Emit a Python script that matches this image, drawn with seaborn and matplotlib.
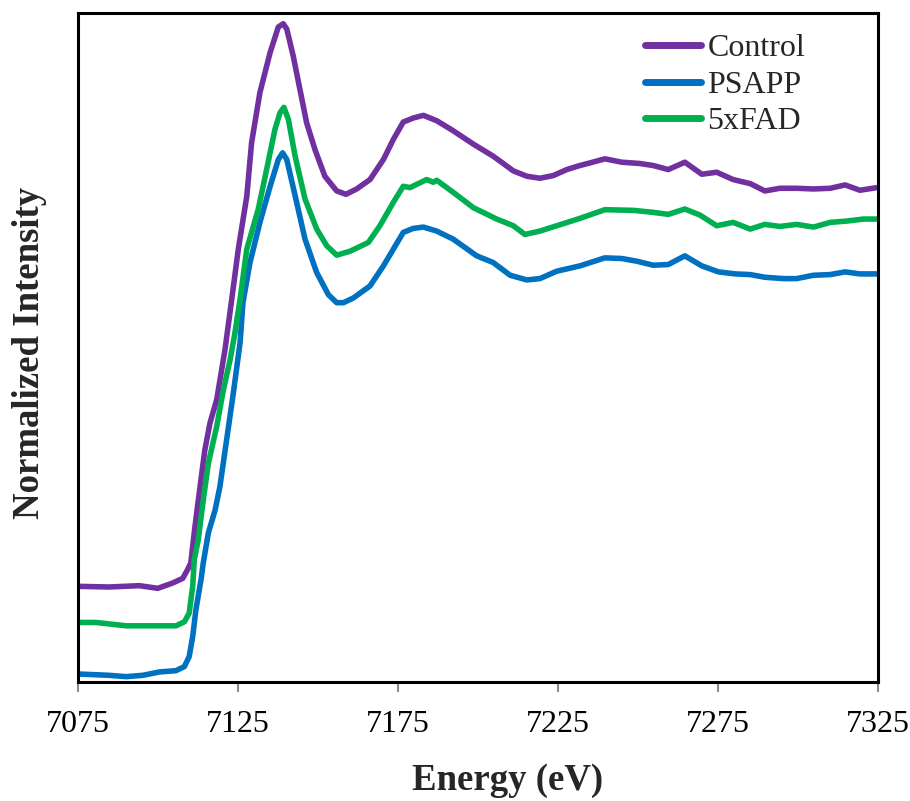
import numpy as np
import pandas as pd
import matplotlib
matplotlib.use("Agg")
import matplotlib.pyplot as plt
import seaborn as sns

# ---------------- data ----------------
series_names = ["Control", "PSAPP", "5xFAD"]
series_colors = ["#7030A0", "#0070C0", "#00B050"]

energy_control = [7075.0, 7084.9, 7094.3, 7100.1, 7104.75, 7107.9, 7109.4, 7110.4, 7111.7, 7113.3,
                  7114.8, 7116.4, 7118.5, 7121.1, 7123.2, 7125.25, 7127.9, 7129.4, 7132.0, 7135.2,
                  7137.75, 7139.3, 7140.4, 7142.4, 7144.5, 7146.6, 7149.2, 7152.3, 7156.0, 7158.9,
                  7162.25, 7166.4, 7170.6, 7173.7, 7176.8, 7179.9, 7183.1, 7187.25, 7192.4, 7198.7,
                  7204.9, 7211.2, 7215.4, 7219.5, 7223.7, 7227.9, 7232.0, 7235.2, 7239.8, 7245.1,
                  7250.8, 7254.9, 7259.6, 7264.8, 7270.1, 7274.75, 7279.9, 7285.2, 7289.8, 7294.5,
                  7299.75, 7305.0, 7310.2, 7314.9, 7319.5, 7324.8]
intensity_control = [0.143, 0.142, 0.144, 0.140, 0.148, 0.155, 0.168, 0.178, 0.232, 0.292,
                     0.347, 0.387, 0.422, 0.497, 0.572, 0.647, 0.726, 0.806, 0.881, 0.941,
                     0.979, 0.984, 0.976, 0.936, 0.886, 0.836, 0.796, 0.756, 0.734, 0.729,
                     0.737, 0.751, 0.781, 0.811, 0.837, 0.843, 0.847, 0.839, 0.824, 0.804,
                     0.786, 0.764, 0.756, 0.753, 0.757, 0.766, 0.772, 0.776, 0.782, 0.777,
                     0.775, 0.772, 0.766, 0.777, 0.759, 0.762, 0.751, 0.745, 0.734, 0.738,
                     0.738, 0.737, 0.738, 0.743, 0.735, 0.739]

energy_psapp = [7075.0, 7084.9, 7090.2, 7095.4, 7100.6, 7105.8, 7108.4, 7109.9, 7111.0, 7112.0,
                7113.6, 7114.3, 7115.9, 7118.0, 7119.5, 7121.6, 7123.7, 7125.8, 7126.7, 7128.9,
                7132.0, 7135.2, 7137.75, 7139.1, 7140.4, 7143.0, 7146.1, 7149.75, 7153.4, 7156.0,
                7158.1, 7161.2, 7166.4, 7170.6, 7173.7, 7176.8, 7179.9, 7183.1, 7187.25, 7192.4,
                7199.75, 7204.9, 7210.2, 7215.4, 7219.5, 7224.75, 7232.0, 7239.8, 7245.1, 7249.75,
                7254.9, 7259.6, 7264.8, 7270.1, 7275.3, 7280.6, 7285.2, 7289.8, 7295.6, 7299.75,
                7305.0, 7310.2, 7314.9, 7319.5, 7324.8]
intensity_psapp = [0.012, 0.010, 0.008, 0.010, 0.015, 0.017, 0.023, 0.038, 0.068, 0.108,
                   0.153, 0.178, 0.223, 0.257, 0.292, 0.362, 0.432, 0.507, 0.567, 0.627,
                   0.687, 0.741, 0.781, 0.791, 0.781, 0.727, 0.662, 0.612, 0.579, 0.567,
                   0.567, 0.574, 0.592, 0.622, 0.647, 0.672, 0.678, 0.680, 0.674, 0.662,
                   0.637, 0.627, 0.608, 0.601, 0.603, 0.614, 0.622, 0.634, 0.633, 0.629,
                   0.623, 0.624, 0.637, 0.622, 0.613, 0.610, 0.609, 0.605, 0.603, 0.603,
                   0.608, 0.609, 0.613, 0.610, 0.610]

energy_5xfad = [7075.0, 7080.8, 7090.2, 7099.5, 7105.8, 7108.4, 7109.9, 7111.0, 7111.5, 7112.75,
                7114.3, 7115.9, 7118.5, 7120.6, 7122.7, 7124.2, 7125.8, 7127.9, 7131.5, 7134.1,
                7136.7, 7138.3, 7139.5, 7140.9, 7143.0, 7146.1, 7149.75, 7152.9, 7156.0, 7160.2,
                7165.9, 7169.5, 7173.7, 7176.8, 7178.9, 7184.1, 7186.2, 7187.25, 7192.4, 7198.7,
                7206.0, 7211.2, 7214.8, 7219.5, 7224.75, 7232.0, 7239.8, 7248.7, 7254.9, 7259.6,
                7264.8, 7269.5, 7274.75, 7279.9, 7285.2, 7289.8, 7294.5, 7299.75, 7305.0, 7310.2,
                7315.4, 7320.6, 7324.8]
intensity_5xfad = [0.089, 0.089, 0.084, 0.084, 0.084, 0.090, 0.103, 0.143, 0.183, 0.213,
                   0.272, 0.327, 0.382, 0.437, 0.482, 0.522, 0.572, 0.647, 0.707, 0.766,
                   0.826, 0.851, 0.859, 0.841, 0.786, 0.722, 0.677, 0.652, 0.638, 0.644,
                   0.657, 0.682, 0.717, 0.741, 0.739, 0.751, 0.747, 0.750, 0.732, 0.709,
                   0.692, 0.682, 0.669, 0.674, 0.682, 0.693, 0.706, 0.705, 0.702, 0.699,
                   0.707, 0.698, 0.682, 0.687, 0.677, 0.684, 0.681, 0.684, 0.680, 0.687,
                   0.689, 0.692, 0.692]

x_ticks = [7075, 7125, 7175, 7225, 7275, 7325]
x_label = "Energy (eV)"
y_label = "Normalized Intensity"

# ---------------- build long table ----------------
frames = []
for name, e, v in zip(series_names,
                      [energy_control, energy_psapp, energy_5xfad],
                      [intensity_control, intensity_psapp, intensity_5xfad]):
    frames.append(pd.DataFrame({"Energy": e, "Intensity": v, "Sample": name}))
df = pd.concat(frames, ignore_index=True)

# ---------------- figure ----------------
sns.set_theme(style="white")
plt.rcParams["font.family"] = ["Liberation Serif", "DejaVu Serif"]

W, H = 910, 801
fig = plt.figure(figsize=(W / 100, H / 100), dpi=100)
ax = fig.add_axes([77.5 / W, (H - 682) / H, 800 / W, 669 / H])

sns.lineplot(data=df, x="Energy", y="Intensity", hue="Sample",
             hue_order=series_names, palette=series_colors,
             linewidth=4.0, sort=False, estimator=None, ax=ax)

ax.set_xlim(7075, 7325)
ax.set_ylim(0, 1.0)
ax.set_xticks(x_ticks)
ax.set_xticklabels([str(t) for t in x_ticks])
ax.set_yticks([])

for sp in ax.spines.values():
    sp.set_color("black")
    sp.set_linewidth(2.2)
    sp.set_visible(True)

ax.tick_params(axis="x", direction="out", length=7.5, width=1.5, color="#8c8c8c",
               labelsize=23, pad=13, labelcolor="black", bottom=True)

ax.set_xlabel(x_label, fontsize=26.5, fontweight="bold", va="center")
ax.set_ylabel(y_label, fontsize=26.5, fontweight="bold", va="center")
ax.xaxis.set_label_coords((507.5 - 77.5) / 800, (682 - 781) / 669)
ax.yaxis.set_label_coords((30 - 77.5) / 800, (682 - 353) / 669)

leg = ax.legend(loc="upper left", bbox_to_anchor=(645 / W, 1 - 34 / H),
                bbox_transform=fig.transFigure, frameon=False, fontsize=23,
                handlelength=1.75, handletextpad=0.2, labelspacing=0.22,
                borderpad=0, borderaxespad=0)
for line in leg.get_lines():
    line.set_linewidth(5)
    line.set_solid_capstyle("round")

fig.savefig("out.png", dpi=100)
